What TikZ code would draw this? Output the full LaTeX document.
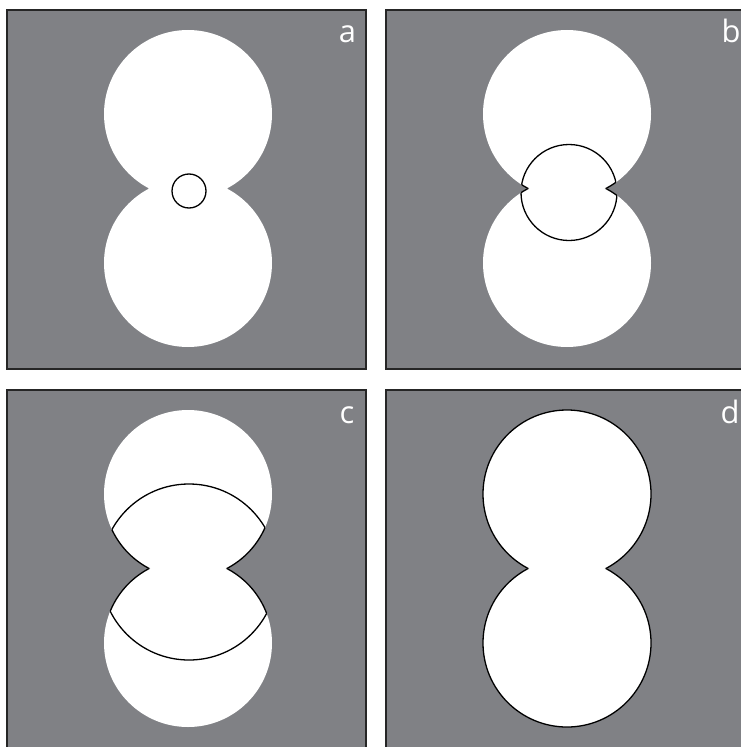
\documentclass[tikz,border=0pt]{standalone}
\usepackage{fontspec}
\setsansfont{Open Sans}
\usepackage{xcolor}
\definecolor{panelgray}{RGB}{128,129,133}

\begin{document}
\begin{tikzpicture}[x=1bp,y=-1bp,
  panel/.style={draw=black!85,line width=1.2bp,fill=panelgray},
  blob/.style={fill=white},
  rim/.style={draw=black,line width=1.3bp},
  lbl/.style={text=white,font=\sffamily\fontsize{31}{31}\selectfont,inner sep=0pt,anchor=base}]
\useasboundingbox (0,0) rectangle (741,747);
\clip (0,0) rectangle (741,747);
% four panels, same two-disc blob in each
\foreach \px/\py in {7/10,386/10,7/390,386/390}{
  \begin{scope}[shift={(\px,\py)}]
    \draw[panel] (0,0) rectangle (359,359);
    \fill[blob] (181,104) circle (84) (181,253) circle (84);
  \end{scope}
}
% a: small seed circle at the neck
\begin{scope}[shift={(7,10)}]
  \draw[rim] (182,181) circle (17);
  \node[lbl] (la) at (340.5,33) {a};
\end{scope}
% b: grown circle, cut by the notches
\begin{scope}[shift={(386,10)}]
  \begin{scope}
    \clip (181,104) circle (84) (181,253) circle (84);
    \draw[rim] (183,182.5) circle (48);
  \end{scope}
  \begin{scope}[even odd rule]
    \clip (183,182.5) circle (48);
    \clip (0,0) rectangle (359,359) (181,253) circle (84);
    \draw[rim] (181,104) circle (84);
  \end{scope}
  \begin{scope}[even odd rule]
    \clip (183,182.5) circle (48);
    \clip (0,0) rectangle (359,359) (181,104) circle (84);
    \draw[rim] (181,253) circle (84);
  \end{scope}
  \node[lbl] (lb) at (345,33) {b};
\end{scope}
% c: larger circle following the blob sides
\begin{scope}[shift={(7,390)}]
  \begin{scope}
    \clip (181,104) circle (84) (181,253) circle (84);
    \draw[rim] (182,182) circle (88);
  \end{scope}
  \begin{scope}[even odd rule]
    \clip (182,182) circle (88);
    \clip (0,0) rectangle (359,359) (181,253) circle (84);
    \draw[rim] (181,104) circle (84);
  \end{scope}
  \begin{scope}[even odd rule]
    \clip (182,182) circle (88);
    \clip (0,0) rectangle (359,359) (181,104) circle (84);
    \draw[rim] (181,253) circle (84);
  \end{scope}
  \node[lbl] (lc) at (340,33) {c};
\end{scope}
% d: contour on the whole blob
\begin{scope}[shift={(386,390)}]
  \begin{scope}[even odd rule]
    \clip (0,0) rectangle (359,359) (181,253) circle (84);
    \draw[rim] (181,104) circle (84);
  \end{scope}
  \begin{scope}[even odd rule]
    \clip (0,0) rectangle (359,359) (181,104) circle (84);
    \draw[rim] (181,253) circle (84);
  \end{scope}
  \node[lbl] (ld) at (344,33) {d};
\end{scope}
\end{tikzpicture}
\end{document}
